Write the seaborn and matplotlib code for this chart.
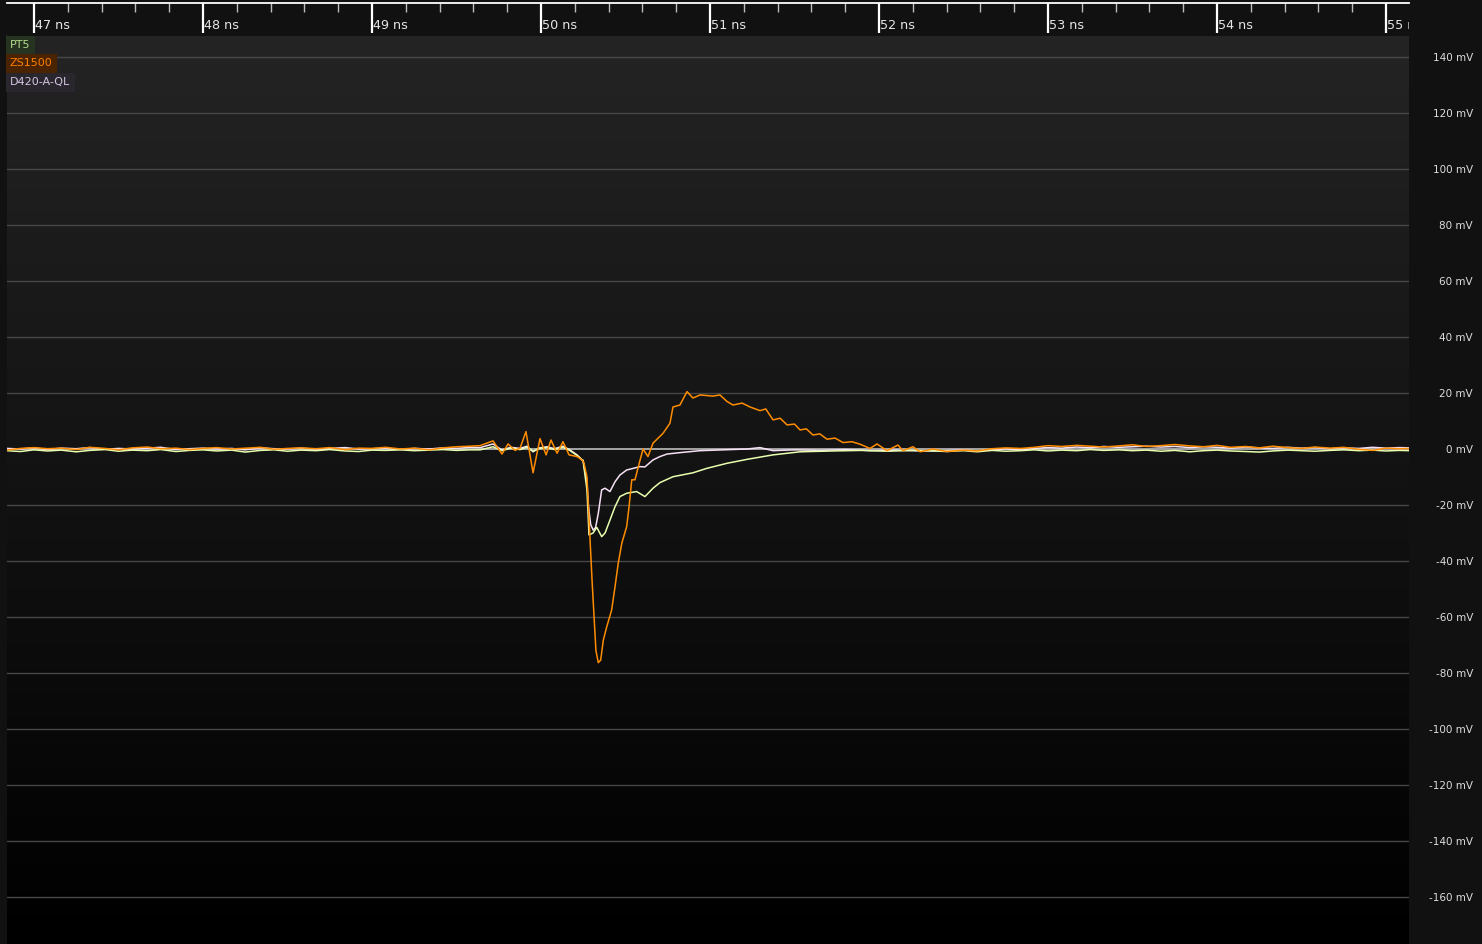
import numpy as np
import pandas as pd
import seaborn as sns
import matplotlib.pyplot as plt
from matplotlib.colors import LinearSegmentedColormap
from matplotlib.transforms import blended_transform_factory

# shared baseline sample times (ns)
pre_t = [46.84, 46.92, 47.0, 47.08, 47.16, 47.25, 47.33, 47.42, 47.5, 47.58, 47.67, 47.75,
         47.84, 47.92, 48.0, 48.08, 48.17, 48.25, 48.34, 48.42, 48.5, 48.58, 48.67, 48.75,
         48.84, 48.92, 49.0, 49.08, 49.17, 49.25, 49.34, 49.42, 49.5, 49.58]
post_t = [52.4, 52.5, 52.58, 52.67, 52.75, 52.84, 52.92, 53.0, 53.08, 53.17, 53.25, 53.33,
          53.42, 53.5, 53.58, 53.67, 53.75, 53.84, 53.92, 54.0, 54.08, 54.17, 54.25, 54.33,
          54.42, 54.5, 54.58, 54.67, 54.75, 54.84, 54.92, 55.0, 55.08, 55.14]

# ZS1500 (orange)
zs_pre = [-0.4, 0.2, 0.5, 0.1, 0.3, -0.2, 0.6, 0.2, -0.3, 0.4, 0.7, 0.1, 0.3, -0.2, 0.2, 0.5, 0.0,
          0.3, 0.6, -0.1, 0.2, 0.4, 0.1, 0.5, -0.2, 0.3, 0.2, 0.6, 0.0, 0.3, -0.3, 0.4, 0.8, 1.0]
zs_t = [49.639, 49.716, 49.769, 49.805, 49.846, 49.876, 49.911, 49.953, 49.994, 50.030, 50.059,
        50.095, 50.130, 50.166, 50.213, 50.243, 50.254, 50.272, 50.290, 50.303, 50.315, 50.325,
        50.339, 50.353, 50.369, 50.389, 50.418, 50.438, 50.457, 50.478, 50.507, 50.521, 50.537,
        50.556, 50.586, 50.604, 50.633, 50.663, 50.722, 50.763, 50.781, 50.822, 50.864, 50.899,
        50.941, 51.018, 51.059, 51.100, 51.136, 51.190, 51.237, 51.296, 51.330, 51.373, 51.415,
        51.456, 51.500, 51.533, 51.570, 51.609, 51.650, 51.692, 51.740, 51.787, 51.840, 51.888,
        51.947, 51.988, 52.047, 52.112, 52.142, 52.201, 52.243, 52.320]
zs_mv = [1.2, 2.9, -1.8, 1.8, -0.5, 0.3, 6.2, -8.5, 3.7, -2.1, 3.2, -1.5, 2.6, -2.1, -2.7, -3.9,
         -5.0, -10.0, -32.5, -48.0, -61.0, -72.0, -76.3, -75.4, -68.2, -63.5, -57.5, -49.2, -40.8,
         -33.7, -27.7, -20.6, -11.0, -11.0, -4.0, 0.0, -2.7, 2.1, 5.6, 9.2, 15.0, 15.7, 20.5, 18.2,
         19.3, 18.9, 19.3, 17.0, 15.7, 16.4, 15.0, 13.7, 14.3, 10.4, 11.0, 8.6, 8.9, 6.8, 7.2,
         5.0, 5.4, 3.5, 3.9, 2.3, 2.6, 1.7, 0.2, 1.8, -0.6, 1.4, -0.6, 0.8, -1.0, 0.0]
zs_post = [-0.9, -0.4, -0.7, 0.1, 0.4, 0.2, 0.6, 1.2, 0.9, 1.3, 1.0, 0.7, 1.1, 1.5, 0.9, 1.2, 1.6,
           1.1, 0.8, 1.3, 0.6, 0.9, 0.4, 1.0, 0.5, 0.2, 0.7, 0.3, 0.6, -0.1, -0.5, 0.3, 0.1, 0.2]

# D420-A-QL (lavender)
d420_pre = [0.2, 0.0, 0.4, -0.2, 0.3, 0.1, 0.5, -0.1, 0.2, 0.0, 0.3, 0.6, -0.2, 0.1, 0.3, 0.0,
            0.2, -0.3, 0.4, 0.1, 0.0, 0.3, -0.1, 0.2, 0.5, 0.0, 0.1, 0.3, -0.2, 0.2, 0.0, 0.4,
            0.2, 0.6]
d420_t = [49.64, 49.716, 49.769, 49.82, 49.876, 49.917, 49.953, 49.99, 50.035, 50.08, 50.13,
          50.17, 50.213, 50.243, 50.249, 50.272, 50.281, 50.294, 50.309, 50.323, 50.339, 50.359,
          50.379, 50.408, 50.438, 50.467, 50.507, 50.586, 50.615, 50.663, 50.704, 50.746, 50.822,
          50.941, 51.219, 51.296, 51.373, 51.5, 51.65, 51.8, 51.95, 52.1, 52.25]
d420_mv = [0.5, 1.8, -0.4, 0.6, 0.2, 1.0, -1.0, 0.4, 0.8, 0.1, 1.0, -0.3, -2.1, -3.9, -4.0,
           -12.0, -20.6, -27.0, -29.0, -28.0, -23.0, -14.6, -14.0, -15.2, -11.7, -9.3, -7.5,
           -6.3, -6.4, -3.9, -2.7, -1.8, -1.3, -0.6, 0.0, 0.5, -0.6, -0.3, -0.5, -0.2, -0.6,
           -0.4, -0.7]
d420_post = [-0.6, -0.3, -0.7, -0.2, 0.0, -0.3, 0.2, 0.5, 0.3, 0.7, 0.4, 0.9, 0.6, 0.8, 1.0, 0.7,
             0.9, 0.5, 0.8, 0.6, 0.3, 0.7, 0.4, 0.2, 0.6, 0.3, 0.5, 0.1, 0.4, 0.2, 0.6, 0.3, 0.5,
             0.4]

# PT5 (yellow-green)
pt5_pre = [-0.6, -0.9, -0.3, -0.7, -0.4, -1.0, -0.5, -0.2, -0.8, -0.4, -0.6, -0.2, -0.9, -0.5,
           -0.3, -0.7, -0.4, -1.1, -0.5, -0.3, -0.8, -0.4, -0.6, -0.2, -0.7, -0.9, -0.4, -0.5,
           -0.3, -0.6, -0.4, -0.2, -0.5, -0.3]
pt5_t = [49.64, 49.716, 49.769, 49.82, 49.876, 49.917, 49.953, 49.99, 50.035, 50.08, 50.13,
         50.17, 50.213, 50.249, 50.272, 50.284, 50.308, 50.330, 50.359, 50.379, 50.408, 50.438,
         50.467, 50.507, 50.566, 50.615, 50.663, 50.704, 50.781, 50.899, 50.982, 51.101, 51.219,
         51.373, 51.533, 51.728, 51.9, 52.05, 52.2, 52.32]
pt5_mv = [-0.3, 0.8, -0.6, 0.3, -0.2, 0.6, -0.8, 0.2, 0.5, -0.2, 0.6, -0.5, -2.3, -4.2, -14.6,
          -30.7, -30.0, -28.0, -31.3, -30.0, -25.4, -20.6, -17.0, -15.8, -15.2, -17.0, -14.0,
          -12.0, -9.9, -8.5, -6.9, -5.1, -3.7, -2.1, -1.0, -0.7, -0.5, -0.8, -0.5, -0.7]
pt5_post = [-0.9, -0.6, -1.0, -0.5, -0.8, -0.6, -0.3, -0.7, -0.4, -0.6, -0.2, -0.5, -0.3, -0.6,
            -0.4, -0.8, -0.5, -1.0, -0.6, -0.4, -0.7, -0.9, -1.1, -0.7, -0.4, -0.6, -0.8, -0.5,
            -0.3, -0.6, -0.4, -0.7, -0.5, -0.6]

probes = ["PT5", "ZS1500", "D420-A-QL"]
line_colors = {"PT5": "#e8ffae", "ZS1500": "#ff8c00", "D420-A-QL": "#f6e0f6"}
tag_text = ["#b4dc8c", "#ff7f00", "#d6c6e2"]
tag_bg = ["#263320", "#4a2300", "#29262e"]

ns_ticks = [47, 48, 49, 50, 51, 52, 53, 54, 55]
mv_ticks = [-160, -140, -120, -100, -80, -60, -40, -20, 0, 20, 40, 60, 80, 100, 120, 140]

frames = []
for name, t, v in [("PT5", pre_t + pt5_t + post_t, pt5_pre + pt5_mv + pt5_post),
                   ("ZS1500", pre_t + zs_t + post_t, zs_pre + zs_mv + zs_post),
                   ("D420-A-QL", pre_t + d420_t + post_t, d420_pre + d420_mv + d420_post)]:
    frames.append(pd.DataFrame({"t": t, "mv": v, "probe": name}))
df = pd.concat(frames, ignore_index=True)

W, H = 1482, 944
fig = plt.figure(figsize=(W / 100, H / 100), dpi=100, facecolor="#111111")

x0, x1 = 46.8402, 55.1361
y0, y1 = -176.79, 147.5

ax = fig.add_axes([7 / W, 0, 1402 / W, 908 / H])

# dark vertical gradient background
grad = LinearSegmentedColormap.from_list("bg", ["#000000", "#242424"])
ax.imshow(np.linspace(0, 1, 256).reshape(-1, 1), cmap=grad, origin="lower", aspect="auto",
          extent=[x0, x1, y0, y1], zorder=0)

for v in mv_ticks:
    if v != 0:
        ax.axhline(v, color="#474747", lw=1, zorder=1)
ax.axhline(0, color="#bdbdbd", lw=1.2, zorder=2)

sns.lineplot(data=df, x="t", y="mv", hue="probe", hue_order=["D420-A-QL", "PT5", "ZS1500"],
             palette=line_colors, estimator=None, sort=True, lw=1.1, legend=False, ax=ax, zorder=3)

ax.set_xlabel("")
ax.set_ylabel("")
ax.set_xticks([])
ax.yaxis.tick_right()
ax.set_yticks(mv_ticks)
ax.set_yticklabels([f"{v} mV" for v in mv_ticks])
ax.tick_params(axis="y", length=0, pad=46, labelsize=7.5, labelcolor="#dddddd")
for lbl in ax.get_yticklabels():
    lbl.set_ha("right")
for s in ax.spines.values():
    s.set_visible(False)
ax.set_xlim(x0, x1)
ax.set_ylim(y0, y1)

# probe tags in the top-left corner
for i, name in enumerate(probes):
    ax.text(3 / 1402, 1 - (8.5 + i * 19) / 908, name, transform=ax.transAxes, fontsize=8,
            color=tag_text[i], va="center", ha="left", zorder=5,
            bbox=dict(boxstyle="square,pad=0.4", fc=tag_bg[i], ec="none"))

# time ruler on top
axt = fig.add_axes([7 / W, 908 / H, 1402 / W, 33 / H])
axt.set_facecolor("#111111")
axt.set_yticks([])
axt.set_xticks(ns_ticks)
axt.set_xticks(np.arange(46.8, 55.2, 0.2), minor=True)
axt.xaxis.tick_top()
axt.tick_params(axis="x", which="major", direction="in", length=21.5, width=1.6,
                color="white", labeltop=False)
axt.tick_params(axis="x", which="minor", direction="in", length=6.5, width=1,
                color="#bbbbbb")
axt.set_xlim(x0, x1)
axt.set_ylim(0, 1)
for k, s in axt.spines.items():
    s.set_visible(k == "top")
axt.spines["top"].set_color("white")
axt.spines["top"].set_linewidth(1.3)
tr = blended_transform_factory(axt.transData, axt.transAxes)
for t in ns_ticks:
    axt.text(t + 0.008, 0.33, f"{t} ns", transform=tr, fontsize=9.2, color="#e6e6e6",
             ha="left", va="center", clip_on=True)

fig.savefig("out.png", dpi=100, facecolor=fig.get_facecolor())
